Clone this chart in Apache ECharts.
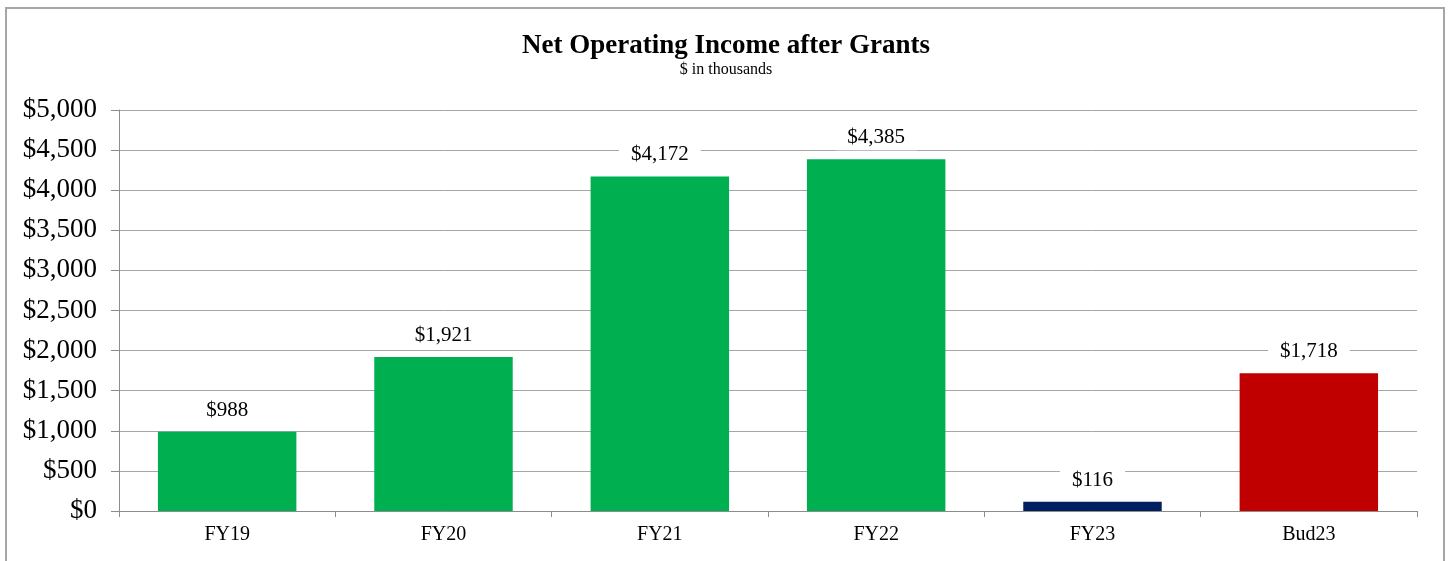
<!DOCTYPE html>
<html>
<head>
<meta charset="utf-8">
<script src="https://cdn.jsdelivr.net/npm/echarts@6/dist/echarts.min.js"></script>
<style>
  body { margin: 0; background: #fff; }
  .frame {
    position: absolute;
    left: 5px;
    top: 7px;
    width: 1436px;
    height: 600px;
    border: 2px solid #a6a6a6;
    border-bottom: none;
  }
  #chart {
    position: absolute;
    left: 0;
    top: 0;
    width: 1452px;
    height: 561px;
  }
</style>
</head>
<body>
<div class="frame"></div>
<div id="chart"></div>
<script>
// data
const categories = ["FY19", "FY20", "FY21", "FY22", "FY23", "Bud23"];
const values = [988, 1921, 4172, 4385, 116, 1718];
const barColors = ["#00b050", "#00b050", "#00b050", "#00b050", "#002060", "#c00000"];

const serif = "'Liberation Serif', 'Times New Roman', serif";

function money(v) {
  return "$" + Number(v).toLocaleString("en-US");
}

let chart = echarts.init(document.getElementById("chart"));
chart.setOption({
  animation: false,
  title: {
    text: "Net Operating Income after Grants",
    subtext: "$ in thousands",
    left: "center",
    top: 28,
    itemGap: 2,
    textStyle: {
      fontFamily: serif,
      fontWeight: "bold",
      fontSize: 27,
      color: "#000",
    },
    subtextStyle: {
      fontFamily: serif,
      fontSize: 16,
      color: "#000",
    },
  },
  grid: {
    left: 119,
    right: 35,
    top: 110,
    bottom: 50,
  },
  xAxis: {
    type: "category",
    data: categories,
    axisLine: { lineStyle: { color: "#8c8c8c", width: 1 } },
    axisTick: { show: true, length: 6, lineStyle: { color: "#8c8c8c" } },
    axisLabel: {
      fontFamily: serif,
      fontSize: 20,
      color: "#000",
      margin: 14,
    },
  },
  yAxis: {
    type: "value",
    min: 0,
    max: 5000,
    interval: 500,
    axisLine: { show: true, lineStyle: { color: "#8c8c8c", width: 1 } },
    axisTick: { show: true, length: 8, lineStyle: { color: "#8c8c8c" } },
    axisLabel: {
      fontFamily: serif,
      fontSize: 27,
      color: "#000",
      margin: 22,
      formatter: money,
    },
    splitLine: { lineStyle: { color: "#a6a6a6", width: 1 } },
  },
  series: [
    {
      type: "bar",
      barWidth: "64%",
      data: values.map(function (v, i) {
        return { value: v, itemStyle: { color: barColors[i] } };
      }),
      label: {
        show: true,
        position: "top",
        distance: 9,
        fontFamily: serif,
        fontSize: 21,
        color: "#000",
        backgroundColor: "#fff",
        padding: [2, 12],
        formatter: function (p) {
          return money(p.value);
        },
      },
    },
  ],
});
</script>
</body>
</html>
